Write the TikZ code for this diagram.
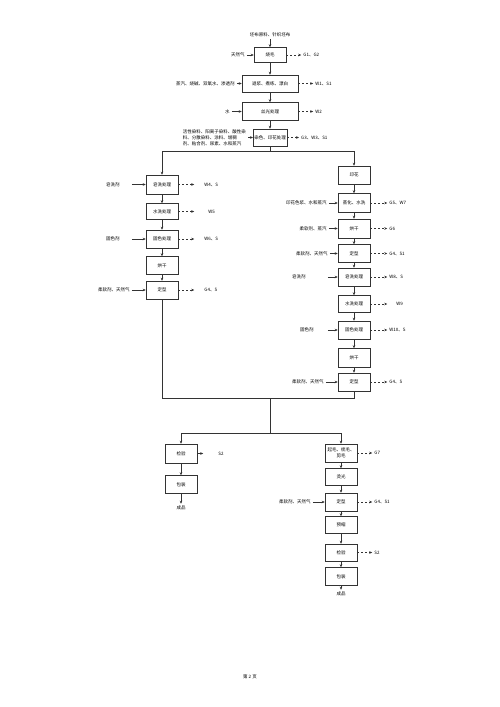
\documentclass[tikz,border=0pt]{standalone}
\usepackage{fontspec}
\setmainfont{Noto Sans CJK SC}
\usepackage{tikz}
\usetikzlibrary{arrows.meta,positioning}
\tikzset{
  block/.style  = {rectangle, draw=black!80, line width=0.5pt, fill=white,
                   text centered, align=center, minimum width=32pt,
                   minimum height=18pt, inner sep=1pt,
                   font=\fontsize{4.5pt}{5.5pt}\selectfont},
  wblock/.style = {block, minimum width=56pt},
  lbl/.style    = {inner sep=2pt, font=\fontsize{4.5pt}{5.8pt}\selectfont},
  arr/.style    = {-{Stealth[length=3pt,width=2.6pt]}, line width=0.5pt, draw=black!80},
  darr/.style   = {arr, dash pattern=on 2pt off 2pt},
  ln/.style     = {line width=0.6pt, draw=black!80},
}
\begin{document}
\begin{tikzpicture}[x=1pt, y=-1pt]
\useasboundingbox[fill=white] (0,0) rectangle (500,707);

%% ── Pre-treatment ─────────────────────────────────────────
\node[lbl] (raw) at (270,35) {坯布原料、针织坯布};
\node[block, minimum height=15pt] (shao) at (270,55) {烧毛};
\node[wblock, minimum height=17pt, below=12pt of shao] (tui)  {退浆、煮练、漂白};
\node[wblock, below=10pt of tui]  (sg)   {丝光处理};
\node[block, minimum height=17pt, below=8pt of sg] (ran) {染色、印花处理};

\node[lbl, left=7pt of shao]  (in-shao) {天然气};
\node[lbl, left=5pt of tui]   (in-tui)  {蒸汽、烧碱、双氧水、渗透剂};
\node[lbl, left=10pt of sg]   (in-sg)   {水};
\node[lbl, left=5pt of ran, align=left] (in-ran)
  {活性染料、阳离子染料、酸性染\\料、分散染料、涂料、增稠\\剂、粘合剂、尿素、水和蒸汽};

\node[lbl, right=15pt of shao] (out-shao) {G1、G2};
\node[lbl, right=15pt of tui]  (out-tui)  {W1、S1};
\node[lbl, right=15pt of sg]   (out-sg)   {W2};
\node[lbl, right=12pt of ran]  (out-ran)  {G3、W3、S1};

%% ── Left branch ───────────────────────────────────────────
\node[block, minimum height=19pt] (la) at (162,184.5) {皂洗处理};
\node[block, minimum height=16pt, below=9pt of la] (lb) {水洗处理};
\node[block, below=10pt of lb] (lc) {固色处理};
\node[block, below=8pt of lc]  (ld) {烘干};
\node[block, below=6pt of ld]  (le) {定型};

\node[lbl, left=24pt of la] (in-la) {皂洗剂};
\node[lbl, left=24pt of lc] (in-lc) {固色剂};
\node[lbl, left=14pt of le] (in-le) {柔软剂、天然气};

\node[lbl, right=24pt of la] (out-la) {W4、S};
\node[lbl, right=28pt of lb] (out-lb) {W5};
\node[lbl, right=24pt of lc] (out-lc) {W6、S};
\node[lbl, right=24pt of le] (out-le) {G4、S};

%% ── Right branch ──────────────────────────────────────────
\node[block] (ra) at (354,175) {印花};
\node[block, minimum height=19pt, below=9pt of ra] (rb) {蒸化、水洗};
\node[block, minimum height=19pt, below=6pt of rb] (rc) {烘干};
\node[block, below=6pt of rc]  (rd) {定型};
\node[block, below=5pt of rd]  (re) {皂洗处理};
\node[block, minimum height=17pt, below=9pt of re] (rf) {水洗处理};
\node[block, below=8pt of rf]  (rg) {固色处理};
\node[block, minimum height=19pt, below=9pt of rg] (rh) {烘干};
\node[block, below=5pt of rh]  (ri) {定型};

\node[lbl, left=9pt of rb]  (in-rb) {印花色浆、水和蒸汽};
\node[lbl, left=9pt of rc]  (in-rc) {柔软剂、蒸汽};
\node[lbl, left=8pt of rd]  (in-rd) {柔软剂、天然气};
\node[lbl, left=30pt of re] (in-re) {皂洗剂};
\node[lbl, left=22pt of rg] (in-rg) {固色剂};
\node[lbl, left=12pt of ri] (in-ri) {柔软剂、天然气};

\node[lbl, right=17pt of rb] (out-rb) {G5、W7};
\node[lbl, right=17pt of rc] (out-rc) {G6};
\node[lbl, right=17pt of rd] (out-rd) {G4、S1};
\node[lbl, right=17pt of re] (out-re) {W8、S};
\node[lbl, right=24pt of rf] (out-rf) {W9};
\node[lbl, right=17pt of rg] (out-rg) {W10、S};
\node[lbl, right=17pt of ri] (out-ri) {G4、S};

%% ── Finishing ─────────────────────────────────────────────
\node[block, minimum height=19pt] (ba) at (181,453.5) {检验};
\node[block, below=12pt of ba] (bb) {包装};
\node[lbl, below=10pt of bb]   (bp) {成品};
\node[lbl, right=19pt of ba]   (out-ba) {S2};

\node[block] (ca) at (341,453) {起毛、梳毛、\\剪毛};
\node[block, minimum height=17pt, below=6pt of ca] (cb) {烫光};
\node[block, below=7pt of cb]  (cc) {定型};
\node[block, minimum height=17pt, below=5pt of cc] (cd) {预缩};
\node[block, minimum height=17pt, below=10pt of cd] (ce) {检验};
\node[block, below=6pt of ce]  (cf) {包装};
\node[lbl, below=4pt of cf]    (cp) {成品};

\node[lbl, left=12pt of cc]  (in-cc)  {柔软剂、天然气};
\node[lbl, right=15pt of ca] (out-ca) {G7};
\node[lbl, right=15pt of cc] (out-cc) {G4、S1};
\node[lbl, right=15pt of ce] (out-ce) {S2};

\node[lbl] (page) at (250,677) {第 2 页};

%% ── Junctions ─────────────────────────────────────────────
\coordinate (split) at (270,151);
\coordinate (merge) at (270,398);
\coordinate (split2) at (270,433);

%% ── Arrows: main line ─────────────────────────────────────
\draw[arr] (raw)  -- (shao);
\draw[arr] (shao) -- (tui);
\draw[arr] (tui)  -- (sg);
\draw[arr] (sg)   -- (ran);
\draw[ln]  (ran)  -- (split);
\draw[arr] (split) -| (la);
\draw[arr] (split) -| (ra);

%% ── Arrows: left branch ───────────────────────────────────
\draw[arr] (la) -- (lb);
\draw[arr] (lb) -- (lc);
\draw[arr] (lc) -- (ld);
\draw[arr] (ld) -- (le);

%% ── Arrows: right branch ──────────────────────────────────
\draw[arr] (ra) -- (rb);
\draw[arr] (rb) -- (rc);
\draw[arr] (rc) -- (rd);
\draw[arr] (rd) -- (re);
\draw[arr] (re) -- (rf);
\draw[arr] (rf) -- (rg);
\draw[arr] (rg) -- (rh);
\draw[arr] (rh) -- (ri);

%% ── Arrows: merge → finishing ─────────────────────────────
\draw[ln]  (le) |- (merge);
\draw[ln]  (ri) |- (merge);
\draw[ln]  (merge) -- (split2);
\draw[arr] (split2) -| (ba);
\draw[arr] (split2) -| (ca);
\draw[arr] (ba) -- (bb);
\draw[arr] (bb) -- (bp);
\draw[arr] (ca) -- (cb);
\draw[arr] (cb) -- (cc);
\draw[arr] (cc) -- (cd);
\draw[arr] (cd) -- (ce);
\draw[arr] (ce) -- (cf);
\draw[arr] (cf) -- (cp);

%% ── Arrows: inputs ────────────────────────────────────────
\draw[arr] (in-shao) -- (shao);
\draw[arr] (in-tui)  -- (tui);
\draw[arr] (in-sg)   -- (sg);
\draw[arr] (in-ran)  -- (ran);
\draw[arr] ([xshift=10pt]in-la.east) -- (la);
\draw[arr] ([xshift=10pt]in-lc.east) -- (lc);
\draw[arr] (in-le) -- (le);
\draw[arr] (in-rb) -- (rb);
\draw[arr] (in-rc) -- (rc);
\draw[arr] (in-rd) -- (rd);
\draw[arr] ([xshift=20pt]in-re.east) -- (re);
\draw[arr] ([xshift=12pt]in-rg.east) -- (rg);
\draw[arr] (in-ri) -- (ri);
\draw[arr] (in-cc) -- (cc);

%% ── Arrows: emissions ─────────────────────────────────────
\draw[darr] (shao) -- (out-shao);
\draw[darr] (tui)  -- (out-tui);
\draw[darr] (sg)   -- (out-sg);
\draw[darr] (ran)  -- (out-ran);
\draw[darr] (la) -- ([xshift=-8pt]out-la.west);
\draw[darr] (lb) -- ([xshift=-12pt]out-lb.west);
\draw[darr] (lc) -- ([xshift=-8pt]out-lc.west);
\draw[darr] (le) -- ([xshift=-8pt]out-le.west);
\draw[darr] (rb) -- (out-rb);
\draw[darr] (rc) -- (out-rc);
\draw[darr] (rd) -- (out-rd);
\draw[darr] (re) -- (out-re);
\draw[darr] (rf) -- ([xshift=-7pt]out-rf.west);
\draw[darr] (rg) -- (out-rg);
\draw[darr] (ri) -- (out-ri);
\draw[arr]  (ba) -- ([xshift=-13pt]out-ba.west);
\draw[darr] (ca) -- (out-ca);
\draw[darr] (cc) -- (out-cc);
\draw[darr] (ce) -- (out-ce);

\end{tikzpicture}
\end{document}
